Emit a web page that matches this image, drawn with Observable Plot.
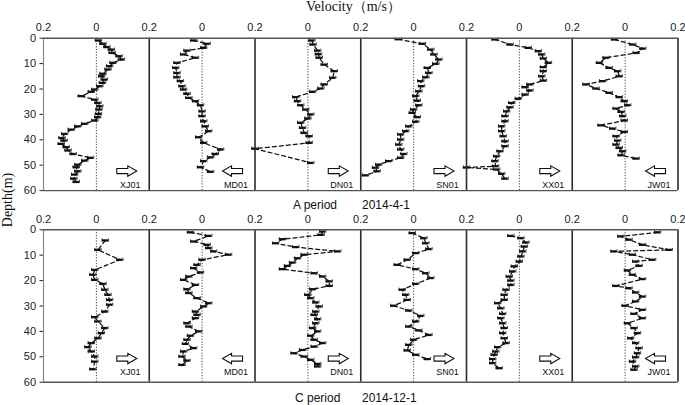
<!DOCTYPE html>
<html><head><meta charset="utf-8">
<script src="https://cdn.jsdelivr.net/npm/d3@7"></script>
<script src="https://cdn.jsdelivr.net/npm/@observablehq/plot@0.6"></script>
<style>
body{margin:0;background:#fff;}
#wrap{position:relative;width:685px;height:405px;overflow:hidden;font-family:"Liberation Sans",Arial,sans-serif;color:#111;}
.abs{position:absolute;white-space:nowrap;line-height:1;}
.serif{font-family:"Liberation Serif","Times New Roman",serif;font-size:14px;}
.cap{font-size:12px;}
svg{position:absolute;left:0;}
</style></head><body><div id="wrap"></div>
<script>
// ---- categories & labels ----
const stations = ["XJ01", "MD01", "DN01", "SN01", "XX01", "JW01"];
const directions = ["R", "L", "R", "R", "R", "L"];
const depthTicks = [0, 10, 20, 30, 40, 50, 60];
const periodNames = ["A period", "C period"];
const periodDates = ["2014-4-1", "2014-12-1"];

// ---- A period (2014-4-1): [depth m, velocity m/s] ----
const A_XJ01 = [[0.9,0.008],[2.2,0.025],[3.5,0.04],[4.5,0.057],[5.8,0.06],[7.1,0.086],[8.4,0.095],[9.7,0.063],[11,0.05],[12.3,0.044],[14,0.025],[15,0.02],[16.3,0.03],[17.6,0.023],[18.9,0.013],[20.2,-0.006],[21.1,-0.019],[22.8,-0.057],[24.2,-0.006],[25.5,0.006],[26.8,0.013],[28.1,0.01],[29.8,0.008],[31.1,0.005],[32.4,-0.006],[33.7,-0.044],[34.7,-0.07],[36,-0.095],[37.7,-0.12],[39.3,-0.13],[40.3,-0.122],[41.6,-0.133],[42.9,-0.114],[44.2,-0.107],[45.6,-0.088],[47.1,-0.022],[48.2,-0.044],[49.8,-0.07],[50.8,-0.076],[52.4,-0.07],[53.7,-0.082],[55.3,-0.085],[56.6,-0.076]];
const A_MD01 = [[0.9,-0.032],[2.2,0.019],[3.8,0.006],[4.9,-0.057],[6.4,-0.07],[7.7,-0.025],[9.7,-0.095],[11.7,-0.1],[13.7,-0.095],[15.4,-0.095],[16.9,-0.082],[18.9,-0.076],[20.2,-0.07],[21.9,-0.057],[23.5,-0.05],[24.8,-0.025],[26.4,-0.006],[28.8,0],[30.7,0],[32.7,0.006],[34.7,0.012],[36.6,0.025],[39,-0.013],[41.2,0.006],[43.8,0.07],[45.6,0.05],[46.9,0.032],[48.4,0.006],[50.8,-0.006],[52.6,0.032]];
const A_DN01 = [[0.9,0.015],[2.5,0.02],[4.9,0.037],[6.3,0.04],[7.7,0.043],[10.4,0.062],[13,0.1],[15.6,0.094],[18.2,0.062],[19.8,0.049],[21.1,0.018],[23.2,-0.046],[24.8,-0.039],[26.4,-0.027],[28.1,-0.008],[30,0.011],[31.6,0],[33.3,-0.027],[35.3,-0.02],[37.3,-0.014],[38.6,0.005],[41.2,0.005],[43.5,-0.2],[49.1,0.011]];
const A_SN01 = [[0.4,-0.058],[2.2,0.033],[4.5,0.065],[6.4,0.077],[8.4,0.096],[10.1,0.084],[11.7,0.052],[13.7,0.058],[15.4,0.046],[16.9,0.027],[18.9,0.03],[20.9,0.02],[22.8,0.008],[24.6,0.014],[26.4,0.02],[28.1,0],[29.4,-0.005],[31.1,0.014],[32.9,0.008],[34.7,-0.018],[36.6,-0.03],[37.9,-0.049],[39.9,-0.049],[41.9,-0.056],[43.8,-0.049],[45.6,-0.037],[47.1,-0.049],[48.4,-0.094],[49.8,-0.132],[51,-0.144],[52.4,-0.138],[54,-0.182]];
const A_XX01 = [[0.5,-0.092],[2.5,-0.035],[3.8,0.034],[5.1,0.072],[6.4,0.085],[8,0.091],[9.7,0.11],[11.4,0.091],[13,0.091],[15,0.085],[16.7,0.091],[18.2,0.04],[19.3,0.022],[20.6,0.04],[22.2,0.022],[23.8,-0.004],[25.5,-0.029],[27.2,-0.035],[28.8,-0.048],[30.7,-0.054],[32.7,-0.054],[34.7,-0.067],[36.6,-0.067],[38.6,-0.061],[40.6,-0.054],[42.5,-0.054],[44.5,-0.073],[46.5,-0.086],[48.4,-0.092],[50.4,-0.09],[50.9,-0.2],[51.7,-0.086],[53.4,-0.067],[55.3,-0.054]];
const A_JW01 = [[0.5,-0.04],[2.5,0.029],[4.1,0.067],[5.8,0.042],[7.7,-0.072],[9.7,-0.097],[11.7,-0.06],[13,-0.028],[15,-0.022],[16.9,-0.085],[18.2,-0.148],[19.8,-0.11],[21.5,-0.06],[23.2,-0.022],[24.8,-0.003],[26.4,0.01],[27.7,-0.034],[29,-0.015],[30.7,-0.009],[32.4,-0.003],[34.3,-0.091],[35.6,-0.047],[36.9,-0.003],[38.6,-0.034],[40.3,-0.028],[41.9,-0.034],[43.2,-0.022],[44.5,-0.009],[46.1,-0.015],[47.4,0.042]];

// ---- C period (2014-12-1): [depth m, velocity m/s] ----
const C_XJ01 = [[4.2,0.034],[7.9,0.006],[11.8,0.089],[15.8,-0.006],[17.7,-0.013],[19.7,-0.006],[21.3,0.025],[23.6,0.032],[25.6,0.044],[27.6,0.05],[29.5,0.05],[32.2,0.032],[34.4,-0.006],[36.1,0.006],[38.7,0.032],[40.7,0.019],[42.7,0.006],[44.6,-0.019],[46.2,-0.032],[47.9,-0.019],[49.9,-0.006],[51.9,-0.006],[54.9,-0.013]];
const C_MD01 = [[1,-0.044],[2.4,0.025],[4.6,-0.032],[5.9,0.019],[7.2,0.025],[8.5,0.044],[9.8,0.1],[11.8,0],[13.8,-0.019],[15.1,-0.032],[16.8,-0.006],[18.4,-0.05],[19.7,-0.07],[21.7,-0.025],[23.4,-0.057],[24.9,-0.05],[26.9,-0.019],[28.9,0.025],[30.2,0.006],[32.2,-0.025],[33.5,-0.019],[34.8,-0.025],[36.8,-0.057],[38.1,-0.05],[40,-0.013],[41.7,-0.044],[43.3,-0.057],[44.9,-0.063],[46.6,-0.032],[47.9,-0.07],[49.9,-0.076],[51.5,-0.057],[53.2,-0.076]];
const C_DN01 = [[0.7,0.056],[2,0.05],[3.7,-0.096],[5.3,-0.122],[6.8,-0.046],[8.5,0.113],[9.8,-0.014],[11.2,-0.039],[12.9,-0.058],[14.2,-0.077],[15.5,-0.096],[17.1,0.024],[18.4,0.056],[20.3,0.081],[22.1,0.081],[23.4,0.018],[25.6,0],[26.9,0.011],[28.6,0.03],[30.2,0.043],[32.2,0.03],[33.5,0.024],[35.2,0.037],[36.8,0.03],[38.7,0.018],[40,0.037],[41.7,0.011],[43.3,0.024],[44.6,0.056],[46,0.024],[47.3,-0.02],[48.6,-0.052],[49.9,-0.014],[51.2,0.011],[52.8,0.037],[53.8,0.037]];
const C_SN01 = [[1.3,-0.005],[3.3,0.039],[5.3,0.046],[7.6,0.058],[9.2,0.008],[11.8,-0.024],[13.8,-0.062],[15.5,0.008],[17.1,0.046],[19,0.065],[21.3,0.008],[23.6,-0.043],[25.6,-0.03],[27.6,-0.024],[29.9,-0.075],[31.8,-0.018],[33.9,0.027],[36.1,0.008],[38.1,-0.018],[39.6,0.02],[41.4,0.058],[43.3,0],[45.3,-0.018],[47.5,-0.024],[49.2,0.008],[50.9,0.052]];
const C_XX01 = [[2.4,-0.032],[3.3,0.006],[5,0.025],[6.6,0.019],[8.5,0.013],[10.5,0.006],[12.5,0],[14.4,-0.019],[16.4,-0.025],[18.4,-0.038],[20,-0.032],[21.7,-0.032],[23.6,-0.05],[25.6,-0.057],[27.6,-0.057],[28.9,-0.082],[30.9,-0.07],[33.1,-0.063],[34.8,-0.07],[36.8,-0.063],[38.7,-0.057],[40.7,-0.063],[42.7,-0.057],[44.6,-0.05],[46.2,-0.082],[47.9,-0.089],[49.2,-0.095],[50.9,-0.101],[52.5,-0.101],[54.5,-0.076]];
const C_JW01 = [[1,0.123],[2.6,-0.016],[3.9,0.015],[5.9,0.066],[7.9,0.167],[8.5,-0.042],[9.8,0.028],[11.8,0.104],[12.5,0.04],[14.2,0.053],[16,0.009],[17.7,0.028],[19.4,0.066],[22.1,-0.035],[23,0.015],[24.7,0.04],[26.3,0.066],[28.2,0.04],[29.9,0],[31.5,0.066],[33.1,0.034],[34.8,0.066],[36.8,0.009],[38.7,0.034],[40.7,0.047],[42.7,0.021],[44.6,0.04],[46.6,0.053],[48.6,0.047],[50.2,0.04],[51.9,0.028],[53.8,0.04],[55.1,0.034]];

const seriesA = [A_XJ01, A_MD01, A_DN01, A_SN01, A_XX01, A_JW01];
const seriesC = [C_XJ01, C_MD01, C_DN01, C_SN01, C_XX01, C_JW01];

const SPAN = 0.4;   // each panel spans -0.2 .. 0.2
const E = 0.012;    // half width of the error bar

function arrowSymbol(dir) {
  return {draw(ctx, size) {
    const r = Math.sqrt(size / Math.PI), s = dir === "L" ? -1 : 1;
    const hh = r * 0.52, bh = r * 0.26, hx = r * 0.1;
    ctx.moveTo(-r * s, -bh); ctx.lineTo(hx * s, -bh); ctx.lineTo(hx * s, -hh);
    ctx.lineTo(r * s, 0); ctx.lineTo(hx * s, hh); ctx.lineTo(hx * s, bh);
    ctx.lineTo(-r * s, bh); ctx.closePath();
  }};
}

function panelPlot(series, marginTop, arrowDepth, labelDepth) {
  const rows = series.flatMap((s, i) => s.map(([depth, v]) => ({i, station: stations[i], depth, v, x: i * SPAN + v})));
  const info = stations.map((s, i) => ({i, station: s, dir: directions[i]}));
  const bounds = d3.range(stations.length + 1).map(i => i * SPAN - SPAN / 2);
  const ticks = bounds.concat(stations.map((s, i) => i * SPAN));
  const ink = "#111";
  return Plot.plot({
    width: 685, height: marginTop + 152.4 + 10,
    marginTop, marginBottom: 10, marginLeft: 43, marginRight: 7.5,
    style: {background: "transparent", fontFamily: "Liberation Sans, Arial, sans-serif", fontSize: "11px", color: "#222"},
    x: {domain: [-SPAN / 2, (stations.length - 0.5) * SPAN], axis: "top", ticks,
        tickFormat: t => Math.abs(t / SPAN - Math.round(t / SPAN)) < 1e-6 ? "0" : "0.2",
        tickSize: 0, tickPadding: 7, label: null},
    y: {domain: [0, 60], reverse: true, ticks: depthTicks, tickSize: 3.5, tickPadding: 4, label: null},
    marks: [
      Plot.ruleX(info, {x: d => d.i * SPAN, stroke: "#444", strokeWidth: 1, strokeDasharray: "1.2,1.6"}),
      Plot.line(rows, {x: "x", y: "depth", z: "station", stroke: ink, strokeWidth: 1.25, strokeDasharray: "4,3"}),
      Plot.ruleY(rows, {y: "depth", x1: d => d.x - E, x2: d => d.x + E, stroke: ink, strokeWidth: 2.3}),
      Plot.ruleX(rows, {x: d => d.x - E, y1: d => d.depth - 0.6, y2: d => d.depth + 0.6, stroke: ink, strokeWidth: 0.8}),
      Plot.ruleX(rows, {x: d => d.x + E, y1: d => d.depth - 0.6, y2: d => d.depth + 0.6, stroke: ink, strokeWidth: 0.8}),
      Plot.ruleX(bounds.slice(1), {x: d => d, stroke: "#2a2a2a", strokeWidth: 1.6}),
      Plot.ruleX(bounds.slice(0, 1), {x: d => d, stroke: "#888", strokeWidth: 1.2}),
      Plot.ruleY([0, 60], {y: d => d, stroke: "#555", strokeWidth: 1.4}),
      Plot.dot(info.filter(d => d.dir === "R"), {x: d => d.i * SPAN + 0.115, y: () => arrowDepth, r: 10, symbol: arrowSymbol("R"), fill: "white", stroke: ink, strokeWidth: 1.1}),
      Plot.dot(info.filter(d => d.dir === "L"), {x: d => d.i * SPAN + 0.115, y: () => arrowDepth, r: 10, symbol: arrowSymbol("L"), fill: "white", stroke: ink, strokeWidth: 1.1}),
      Plot.text(info, {x: d => d.i * SPAN + 0.128, y: () => labelDepth, text: "station", fontSize: 9, fill: ink})
    ]
  });
}

const wrap = document.getElementById("wrap");
const plotA = panelPlot(seriesA, 37.7, 52.3, 57.8);
plotA.style.top = "0px";
wrap.appendChild(plotA);
const plotC = panelPlot(seriesC, 34.3, 50.7, 56.2);
plotC.style.top = "195px";
wrap.appendChild(plotC);

function addText(txt, cls, left, topPx, extra) {
  const d = document.createElement("div");
  d.className = "abs " + cls;
  d.textContent = txt;
  d.style.left = left + "px";
  d.style.top = topPx + "px";
  if (extra) Object.assign(d.style, extra);
  wrap.appendChild(d);
  return d;
}
addText("Velocity（m/s）", "serif", 306, 0);
addText("Depth(m)", "serif", -20, 193, {transform: "rotate(-90deg)", transformOrigin: "center", width: "56px", textAlign: "center"});
addText(periodNames[0], "cap", 293, 199);
addText(periodDates[0], "cap", 362, 199);
addText(periodNames[1], "cap", 295, 392);
addText(periodDates[1], "cap", 362, 392);
</script></body></html>
